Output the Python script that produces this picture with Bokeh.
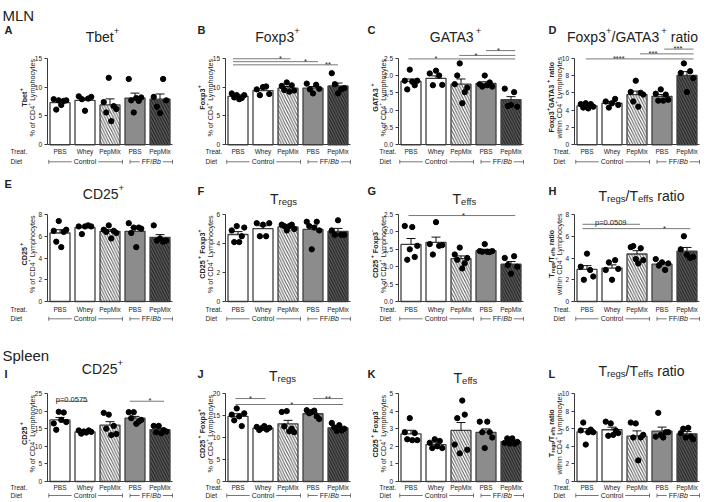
import math
from bokeh.plotting import figure
from bokeh.layouts import row, column
from bokeh.models import Label, Arrow, TeeHead, FixedTicker, Range1d, ColumnDataSource
from bokeh.core.properties import value
from bokeh.embed import file_html
from bokeh.resources import INLINE

FONT = "Liberation Sans"
TXT = "#222222"
AXC = "#3a3a3a"

# ---------------- data ----------------
treat_labels = ["PBS", "Whey", "PepMix", "PBS", "PepMix"]
diet_labels = ["Control", "FF/", "Bb"]

A_mean = [7.3, 7.7, 6.9, 8.1, 7.9]
A_sem = [0.37, 0.38, 1.05, 0.85, 0.9]
A_pts = [[7.9, 6.1, 7.7, 6.9, 7.6, 7.7], [8.4, 7.9, 5.9, 8.0, 8.3],
         [7.4, 5.6, 11.6, 4.1, 6.7, 6.2], [11.4, 7.7, 5.6, 8.1, 7.6, 8.2],
         [8.3, 6.6, 5.5, 11.4, 7.7]]
A_sig = []

B_mean = [8.4, 9.4, 9.8, 9.8, 10.2]
B_sem = [0.25, 0.3, 0.3, 0.3, 0.5]
B_pts = [[8.9, 8.2, 8.6, 7.9, 8.1, 8.6], [9.6, 8.6, 10.0, 10.1, 8.8],
         [10.2, 9.5, 10.8, 9.2, 10.3, 9.4], [10.6, 9.6, 8.9, 10.4, 9.7],
         [12.4, 10.5, 8.9, 9.6, 9.8]]
B_sig = [(0.8, 3.1, 14.9, "*", 2.7), (0.8, 4.2, 14.4, "*", 3.7), (0.8, 5.0, 13.85, "**", 4.6)]

C_mean = [1.83, 1.92, 1.75, 1.77, 1.30]
C_sem = [0.07, 0.07, 0.15, 0.05, 0.09]
C_pts = [[1.85, 1.60, 2.17, 1.82, 1.72, 1.85], [2.06, 1.72, 2.14, 2.0, 1.73],
         [1.75, 2.0, 2.35, 1.2, 1.52, 1.65], [1.75, 1.68, 2.0, 1.72, 1.80, 1.68],
         [1.62, 1.12, 1.15, 1.52, 1.1]]
C_sig = [(0.9, 5.17, 2.48, "*", 2.0), (2.93, 5.17, 2.58, "*", 3.6), (4.0, 5.17, 2.72, "*", 4.5)]

D_mean = [4.5, 4.8, 5.8, 5.6, 8.0]
D_sem = [0.15, 0.2, 0.4, 0.2, 0.45]
D_pts = [[4.7, 4.3, 4.8, 4.2, 4.7, 4.4], [5.0, 4.3, 4.8, 5.3, 4.6],
         [6.1, 5.0, 7.4, 4.4, 6.0, 5.8], [5.9, 5.1, 6.4, 5.1, 5.8, 5.2],
         [8.3, 9.4, 6.1, 8.5, 7.7]]
D_sig = [(0.95, 5.26, 9.92, "****", 2.27), (3.12, 5.26, 10.5, "***", 3.64), (4.09, 5.26, 11.05, "***", 4.64)]

E_mean = [6.3, 6.8, 6.45, 6.45, 5.9]
E_sem = [0.3, 0.15, 0.15, 0.35, 0.25]
E_pts = [[6.5, 5.5, 7.4, 5.0, 6.4, 6.6], [6.9, 6.2, 6.9, 7.0, 6.9],
         [6.6, 6.4, 7.0, 5.8, 6.5, 6.3], [7.2, 6.3, 6.8, 5.0, 6.8, 6.7],
         [7.0, 5.6, 5.8, 5.5, 5.6]]
E_sig = []

F_mean = [4.62, 5.02, 5.14, 4.97, 4.84]
F_sem = [0.2, 0.2, 0.1, 0.25, 0.2]
F_pts = [[4.9, 4.1, 5.2, 4.1, 4.5, 5.1], [5.4, 4.5, 5.3, 4.5, 5.4],
         [5.3, 5.2, 4.9, 5.2, 5.3, 5.0], [5.5, 5.2, 3.6, 5.1, 5.5, 4.9],
         [4.9, 4.6, 5.6, 4.6, 4.6]]
F_sig = []

G_mean = [1.64, 1.7, 1.23, 1.46, 1.07]
G_sem = [0.17, 0.15, 0.08, 0.04, 0.08]
G_pts = [[2.17, 1.2, 1.5, 2.14, 1.28, 1.6], [1.65, 1.35, 2.28, 1.6, 1.62],
         [1.35, 1.2, 1.55, 0.95, 1.1, 1.25], [1.45, 1.43, 1.65, 1.43, 1.42, 1.45],
         [1.25, 1.05, 0.8, 1.3, 1.0]]
G_sig = [(0.9, 5.17, 2.47, "*", 3.1)]

H_mean = [2.95, 3.07, 4.37, 3.43, 4.62]
H_sem = [0.35, 0.3, 0.3, 0.15, 0.35]
H_pts = [[3.2, 2.0, 4.4, 2.9, 2.3], [2.9, 3.6, 2.0, 3.8, 3.0],
         [5.0, 5.1, 3.9, 3.5, 4.9, 3.8], [3.9, 3.3, 3.6, 2.9, 3.5],
         [4.8, 6.0, 4.3, 4.0, 4.1]]
H_sig = [(0.82, 3.12, 7.1, "p=0.0509", 1.95), (0.82, 5.13, 6.7, "*", 4.1)]

I_mean = [17.5, 14.1, 16.0, 18.0, 14.7]
I_sem = [0.7, 0.3, 1.0, 0.5, 0.4]
I_pts = [[16.5, 14.7, 19.8, 17.5, 19.6, 16.9], [14.5, 13.6, 14.2, 13.9, 14.5, 14.1],
         [19.5, 15.0, 19.0, 13.2, 15.8, 13.5], [19.7, 18.0, 19.7, 16.4, 17.0, 17.5],
         [15.8, 14.0, 15.8, 13.7, 14.6, 14.2]]
I_sig = [(0.84, 2.12, 22.8, "p=0.0575", 1.46), (3.79, 5.16, 22.8, "*", 4.6)]

J_mean = [14.8, 12.1, 13.1, 15.4, 12.2]
J_sem = [0.6, 0.2, 0.8, 0.3, 0.35]
J_pts = [[15.2, 13.9, 16.6, 14.8, 12.6, 15.5], [12.4, 11.7, 12.1, 12.6, 11.8, 12.2],
         [15.8, 12.5, 16.0, 11.4, 12.0, 11.2], [16.2, 15.5, 15.8, 16.1, 14.8, 14.2],
         [13.3, 12.3, 11.5, 12.8, 11.6, 12.0]]
J_sig = [(0.9, 2.1, 18.85, "*", 1.5), (0.9, 5.2, 17.5, "*", 3.15), (4.0, 5.2, 18.85, "**", 4.6)]

K_mean = [2.71, 2.1, 2.9, 2.79, 2.27]
K_sem = [0.2, 0.1, 0.45, 0.2, 0.06]
K_pts = [[2.8, 2.4, 3.6, 2.35, 2.75, 2.35], [2.2, 1.9, 2.4, 2.0, 2.3, 1.9],
         [2.1, 3.6, 1.6, 4.6, 3.8, 1.8], [3.4, 2.8, 1.9, 3.4, 2.8, 2.5],
         [2.2, 2.45, 2.15, 2.45, 2.15, 2.25]]
K_sig = []

L_mean = [5.65, 5.88, 5.15, 5.73, 5.42]
L_sem = [0.35, 0.3, 0.6, 0.45, 0.25]
L_pts = [[5.8, 6.7, 4.2, 5.6, 5.9, 5.6], [6.8, 5.2, 6.6, 5.3, 5.8, 5.5],
         [6.7, 5.0, 6.6, 2.4, 5.0, 5.3], [5.1, 7.8, 5.3, 5.0, 5.6, 5.6],
         [5.5, 6.0, 5.0, 6.1, 5.1, 4.8]]
L_sig = []

PCT = "% of CD4^{+} Lymphocytes"
WITHIN = "within CD4^{+} Lymphocytes"

panels = [
    dict(letter="A", title="Tbet^{+}", yl1="Tbet^{+}", yl2=PCT, ymax=15, yticks=[0, 5, 10, 15], dec=False, mean=A_mean, sem=A_sem, pts=A_pts, sig=A_sig),
    dict(letter="B", title="Foxp3^{+}", yl1="Foxp3^{+}", yl2=PCT, ymax=15, yticks=[0, 5, 10, 15], dec=False, mean=B_mean, sem=B_sem, pts=B_pts, sig=B_sig),
    dict(letter="C", title="GATA3^{+}", yl1="GATA3^{+}", yl2=PCT, ymax=2.5, yticks=[0, 0.5, 1.0, 1.5, 2.0, 2.5], dec=True, mean=C_mean, sem=C_sem, pts=C_pts, sig=C_sig),
    dict(letter="D", title="Foxp3^{+}/GATA3^{+} ratio", yl1="Foxp3^{+}GATA3^{+} ratio", yl2=WITHIN, ymax=10, yticks=[0, 2, 4, 6, 8, 10], dec=False, mean=D_mean, sem=D_sem, pts=D_pts, sig=D_sig),
    dict(letter="E", title="CD25^{+}", yl1="CD25^{+}", yl2=PCT, ymax=8, yticks=[0, 2, 4, 6, 8], dec=False, mean=E_mean, sem=E_sem, pts=E_pts, sig=E_sig),
    dict(letter="F", title="T_{regs}", yl1="CD25^{+} Foxp3^{+}", yl2=PCT, ymax=6, yticks=[0, 2, 4, 6], dec=False, mean=F_mean, sem=F_sem, pts=F_pts, sig=F_sig),
    dict(letter="G", title="T_{effs}", yl1="CD25^{+} Foxp3^{-}", yl2=PCT, ymax=2.5, yticks=[0, 0.5, 1.0, 1.5, 2.0, 2.5], dec=True, mean=G_mean, sem=G_sem, pts=G_pts, sig=G_sig),
    dict(letter="H", title="T_{regs}/T_{effs} ratio", yl1="T_{regs}/T_{effs} ratio", yl2=WITHIN, ymax=8, yticks=[0, 2, 4, 6, 8], dec=False, mean=H_mean, sem=H_sem, pts=H_pts, sig=H_sig),
    dict(letter="I", title="CD25^{+}", yl1="CD25^{+}", yl2=PCT, ymax=25, yticks=[0, 5, 10, 15, 20, 25], dec=False, mean=I_mean, sem=I_sem, pts=I_pts, sig=I_sig),
    dict(letter="J", title="T_{regs}", yl1="CD25^{+} Foxp3^{+}", yl2=PCT, ymax=20, yticks=[0, 5, 10, 15, 20], dec=False, mean=J_mean, sem=J_sem, pts=J_pts, sig=J_sig),
    dict(letter="K", title="T_{effs}", yl1="CD25^{+} Foxp3^{-}", yl2=PCT, ymax=5, yticks=[0, 1, 2, 3, 4, 5], dec=False, mean=K_mean, sem=K_sem, pts=K_pts, sig=K_sig),
    dict(letter="L", title="T_{regs}/T_{effs} ratio", yl1="T_{regs}/T_{effs} ratio", yl2=WITHIN, ymax=10, yticks=[0, 2, 4, 6, 8, 10], dec=False, mean=L_mean, sem=L_sem, pts=L_pts, sig=L_sig),
]

# ---------------- styles / layout ----------------
BAR_FILL = ["white", "white", "white", "#8c8c8c", "#5c5c5c"]
BAR_HATCH = [" ", " ", "\\", " ", "\\"]
HATCH_COL = ["#555555", "#555555", "#555555", "#333333", "#1a1a1a"]

COL_W = 177
COL_LEFT = [47, 48, 44, 43]          # px from panel left edge to the y axis
PPX = 25.0                           # px per category step
ROW_H = [168, 162, 172]
ROW_CORNER = [144.3, 133, 151]       # px from panel top to the x axis
ROW_AH = [86.6, 87, 88]              # px spanned by y = 0 .. ymax
TREAT_DOWN = [6.5, 7.5, 6.0]
DIET_DOWN = [17.0, 17.3, 14.0]
LETTER_DX = [-43, -28, -31, -26]
LETTER_UP = [[119, 119, 119, 119], [122, 115, 115, 115], [112, 112, 112, 112]]
TITLE_UP = [[113, 113, 113, 113], [113, 108, 108, 111], [118, 111, 109, 116]]
TITLE_DX = [[55, 52, 57, 58], [56, 58, 66, 67], [55, 57, 67, 67]]
TREAT_DX = [-37, -20, -19, -21]

CW = {' ': .278, '!': .278, '%': .889, '(': .333, ')': .333, '*': .389, '+': .584, '-': .333,
      '.': .278, '/': .278, '=': .584, ':': .278}
for ch in "0123456789":
    CW[ch] = .556
CW.update(dict(zip("ABCDEFGHIJKLMNOPQRSTUVWXYZ",
                   [.667, .667, .722, .722, .667, .611, .778, .722, .278, .5, .667, .556, .833,
                    .722, .778, .667, .778, .722, .667, .611, .722, .667, .944, .667, .667, .611])))
CW.update(dict(zip("abcdefghijklmnopqrstuvwxyz",
                   [.556, .556, .5, .556, .556, .278, .556, .556, .222, .222, .5, .222, .833,
                    .556, .556, .556, .556, .333, .5, .278, .556, .5, .722, .5, .5, .5])))


def tw(s, size, bold=False):
    w = sum(CW.get(ch, .556) for ch in s) * size
    return w * (1.07 if bold else 1.0)


def parse(markup):
    out, buf, i = [], "", 0
    while i < len(markup):
        if markup[i] in "^_" and i + 1 < len(markup) and markup[i + 1] == "{":
            if buf:
                out.append((buf, "n"))
                buf = ""
            j = markup.index("}", i)
            out.append((markup[i + 2:j], "sup" if markup[i] == "^" else "sub"))
            i = j + 1
        else:
            buf += markup[i]
            i += 1
    if buf:
        out.append((buf, "n"))
    return out


def make_panel(idx, cfg):
    r, c = divmod(idx, 4)
    left = COL_LEFT[c]
    corner = ROW_CORNER[r]
    H = ROW_H[r]
    AH = ROW_AH[r]
    ymax = cfg["ymax"]
    ppx = PPX
    upp = ymax / AH
    xr = Range1d(0.5 - left / ppx, 0.5 + (COL_W - left) / ppx)
    yr = Range1d(-(H - corner) * upp, corner * upp)
    p = figure(width=COL_W, height=H, x_range=xr, y_range=yr,
               output_backend="svg", toolbar_location=None, title_location=None,
               min_border=0, min_border_left=0, min_border_right=0,
               min_border_top=0, min_border_bottom=0)
    p.outline_line_color = None
    p.grid.grid_line_color = None
    p.background_fill_color = "white"
    p.border_fill_color = "white"

    def D(dx, dy):
        return 0.5 + dx / ppx, dy * upp

    def rich(markup, dx, dy, size, style="normal", align="center", rotated=False, color=TXT,
             baseline="alphabetic"):
        bold = "bold" in style
        items = []
        for t, k in parse(markup):
            s = size if k == "n" else size * 0.68
            sh = 0 if k == "n" else (size * 0.42 if k == "sup" else -size * 0.22)
            items.append((t, s, sh, tw(t, s, bold)))
        total = sum(it[3] for it in items)
        pos = {"left": 0, "center": -total / 2, "right": -total}[align]
        for t, s, sh, w in items:
            lead = len(t) - len(t.lstrip(" "))
            shift = tw(" " * lead, s, bold)
            t2 = t.strip(" ")
            if t2:
                if rotated:
                    px, py = dx - sh, dy + pos + shift
                else:
                    px, py = dx + pos + shift, dy + sh
                x, y = D(px, py)
                p.add_layout(Label(x=x, y=y, text=t2, text_font=FONT, text_font_size=f"{s:.1f}px",
                                   text_font_style=style, text_color=color, text_align="left",
                                   text_baseline=baseline, angle=(math.pi / 2 if rotated else 0)))
            pos += w

    # axes pinned at the data origin; their texts are drawn as labels
    xa = p.xaxis[0]
    xa.fixed_location = 0
    xa.ticker = FixedTicker(ticks=[1, 2, 3, 4, 5])
    xa.major_label_overrides = {i + 1: "" for i in range(5)}
    xa.major_label_standoff = 0
    xa.major_tick_out = 0
    xa.major_tick_in = 0
    xa.minor_tick_out = 0
    xa.minor_tick_in = 0
    xa.major_tick_line_color = None
    xa.minor_tick_line_color = None
    xa.axis_line_color = AXC
    xa.axis_line_width = 1
    xa.bounds = (0.5, 5.5)

    ya = p.yaxis[0]
    ya.fixed_location = 0.5
    ya.ticker = FixedTicker(ticks=cfg["yticks"])
    ya.major_label_overrides = {t: "" for t in cfg["yticks"]}
    ya.major_label_standoff = 0
    ya.bounds = (0, ymax)
    ya.major_tick_out = 3
    ya.major_tick_in = 0
    ya.minor_tick_out = 0
    ya.minor_tick_in = 0
    ya.minor_tick_line_color = None
    ya.axis_line_color = AXC
    ya.major_tick_line_color = AXC

    # tick texts
    tdown = TREAT_DOWN[r]
    for g, t in enumerate(treat_labels):
        rich(t, (g + 0.5) * ppx, -tdown, 6.5, baseline="middle")
    for t in cfg["yticks"]:
        lab = f"{t:.1f}" if cfg["dec"] else f"{t:g}"
        rich(lab, -5.5, t / upp, 6.5, align="right", baseline="middle")

    # bars
    src = ColumnDataSource(dict(x=[1, 2, 3, 4, 5], top=cfg["mean"], fill=BAR_FILL,
                                hatch=BAR_HATCH, hcol=HATCH_COL))
    p.vbar(x="x", top="top", width=0.8, bottom=0, source=src, fill_color="fill",
           line_color="#404040", line_width=1.3, hatch_pattern="hatch", hatch_color="hcol",
           hatch_scale=5.5, hatch_weight=1)
    # error bars (SEM, upper)
    xs = [1, 2, 3, 4, 5]
    tops = [m + s for m, s in zip(cfg["mean"], cfg["sem"])]
    p.segment(x0=xs, y0=cfg["mean"], x1=xs, y1=tops, line_color="#111111", line_width=1)
    p.segment(x0=[x - 0.18 for x in xs], y0=tops, x1=[x + 0.18 for x in xs], y1=tops,
              line_color="#111111", line_width=1)
    # points
    px_, py_ = [], []
    for g, vals in enumerate(cfg["pts"]):
        n = len(vals)
        for k, v in enumerate(vals):
            off = 0 if n == 1 else -0.25 + 0.5 * k / (n - 1)
            px_.append(g + 1 + off)
            py_.append(v)
    p.scatter(px_, py_, size=5.3, color="black")

    # significance
    if cfg["sig"]:
        p.segment(x0=[s[0] for s in cfg["sig"]], y0=[s[2] for s in cfg["sig"]],
                  x1=[s[1] for s in cfg["sig"]], y1=[s[2] for s in cfg["sig"]],
                  line_color="#555555", line_width=0.8)
        tx, ty, tt = [], [], []
        for s in cfg["sig"]:
            tx.append(s[4])
            ty.append(s[2] + (2.2 if s[3].startswith("p") else 0.3) * upp)
            tt.append(s[3])
        p.text(x=tx, y=ty, text=tt, text_font=value(FONT), text_font_size="7.5px",
               text_align="center", text_baseline="alphabetic", text_color=TXT)

    # titles, letters
    rich(cfg["title"], TITLE_DX[r][c], TITLE_UP[r][c] - 5.0, 14)
    rich(cfg["letter"], LETTER_DX[c], LETTER_UP[r][c] - 4, 11, style="bold", align="left")
    if idx == 0:
        rich("MLN", -45, 129.3, 15, align="left")
    if idx == 8:
        rich("Spleen", -45, 126, 15, align="left")

    # y axis labels (two lines)
    rich(cfg["yl1"], -23.0, AH / 2 + 4, 7.2, style="bold", rotated=True)
    rich(cfg["yl2"], -15.5, AH / 2 + 4, 7.2, rotated=True)

    # treat / diet rows
    ddown = DIET_DOWN[r]
    rich("Treat.", TREAT_DX[c], -tdown, 6.5, align="left", baseline="middle")
    rich("Diet", TREAT_DX[c], -ddown, 6.5, align="left", baseline="middle")
    yb = -ddown * upp
    gap = 2.0
    w_ctl = tw(diet_labels[0], 7)
    w_ff = tw(diet_labels[1], 7)
    w_bb = tw(diet_labels[2], 7)
    brackets = [(0.55, 3.5, 2.0, w_ctl), (3.8, 5.5, 4.65, w_ff + w_bb)]
    for x0, x1, cx, w in brackets:
        half = (w / 2 + gap) / ppx
        p.add_layout(Arrow(start=TeeHead(size=4, line_width=0.8, line_color="#555555"), end=None,
                           x_start=x0, y_start=yb, x_end=cx - half, y_end=yb,
                           line_color="#555555", line_width=0.8))
        p.add_layout(Arrow(start=None, end=TeeHead(size=4, line_width=0.8, line_color="#555555"),
                           x_start=cx + half, y_start=yb, x_end=x1, y_end=yb,
                           line_color="#555555", line_width=0.8))
    p.add_layout(Label(x=2.0, y=yb, text=diet_labels[0], text_font=FONT,
                       text_font_size="7px", text_align="center", text_baseline="middle",
                       text_color=TXT))
    start = 4.65 - (w_ff + w_bb) / 2 / ppx
    p.add_layout(Label(x=start, y=yb, text=diet_labels[1], text_font=FONT,
                       text_font_size="7px", text_align="left", text_baseline="middle",
                       text_color=TXT))
    p.add_layout(Label(x=start + w_ff / ppx, y=yb, text=diet_labels[2], text_font=FONT,
                       text_font_size="7px", text_font_style="italic", text_align="left",
                       text_baseline="middle", text_color=TXT))
    return p


figs = [make_panel(i, cfg) for i, cfg in enumerate(panels)]
layout = column(row(*figs[0:4]), row(*figs[4:8]), row(*figs[8:12]))
open("out.html", "w").write(file_html(layout, INLINE))
